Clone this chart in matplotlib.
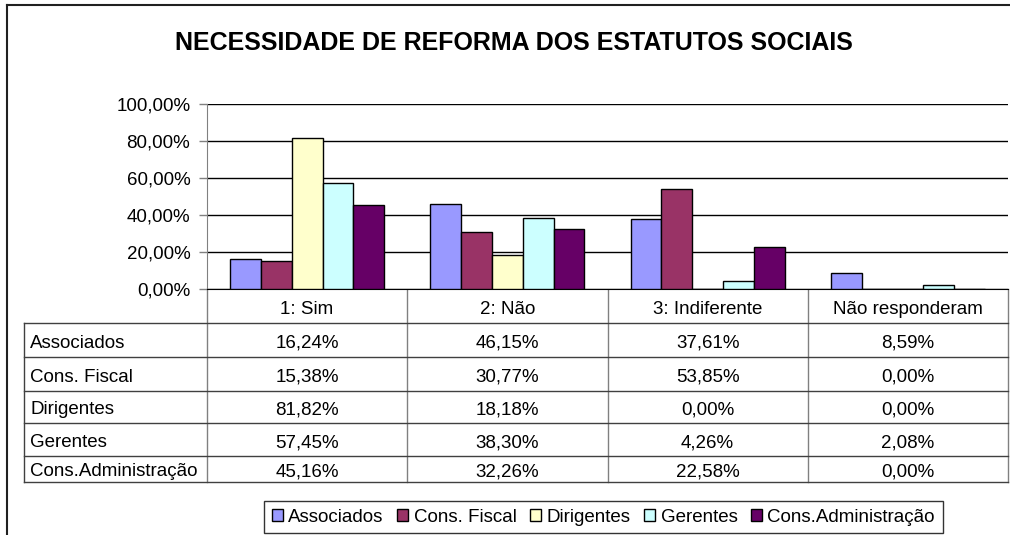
import matplotlib
matplotlib.use("Agg")
import matplotlib.pyplot as plt
import numpy as np

plt.rcParams["font.family"] = ["Liberation Sans", "DejaVu Sans"]

# data
categories = ["1: Sim", "2: Não", "3: Indiferente", "Não responderam"]
series = ["Associados", "Cons. Fiscal", "Dirigentes", "Gerentes", "Cons.Administração"]
associados = [16.24, 46.15, 37.61, 8.59]
cons_fiscal = [15.38, 30.77, 53.85, 0.00]
dirigentes = [81.82, 18.18, 0.00, 0.00]
gerentes = [57.45, 38.30, 4.26, 2.08]
cons_admin = [45.16, 32.26, 22.58, 0.00]
values = [associados, cons_fiscal, dirigentes, gerentes, cons_admin]
colors = ["#9999FF", "#993366", "#FFFFCC", "#CCFFFF", "#660066"]

W, H = 1010, 535
fig = plt.figure(figsize=(W / 100, H / 100), dpi=100)
FS = 13.5

def fx(px):
    return px / W

def fy(py):
    return 1 - py / H

# plot area
left, right, top, bottom = 207, 1008, 104, 289
ax = fig.add_axes([fx(left), fy(bottom), fx(right) - fx(left), fy(top) - fy(bottom)])
x = np.arange(len(categories))
width = 1 / 6.5
handles = []
for i, (name, vals, col) in enumerate(zip(series, values, colors)):
    b = ax.bar(x + (i - 2) * width, np.array(vals) / 100, width, color=col,
               edgecolor="black", linewidth=1, label=name, zorder=3)
    handles.append(b)
ax.set_xlim(-0.5, len(categories) - 0.5)
ax.set_ylim(0, 1)
ax.set_yticks(np.arange(0, 1.01, 0.2))
ax.set_yticklabels([("%.2f%%" % (v * 100)).replace(".", ",") for v in np.arange(0, 1.01, 0.2)],
                   fontsize=FS)
ax.set_xticks([])
ax.yaxis.grid(True, color="black", linewidth=1)
ax.set_axisbelow(True)
ax.tick_params(axis="y", length=6, width=1, color="#808080", pad=6)
for s in ["top", "right"]:
    ax.spines[s].set_visible(False)
ax.spines["left"].set_color("#808080")
ax.spines["bottom"].set_color("black")

# title
fig.text(fx(514), fy(43), "NECESSIDADE DE REFORMA DOS ESTATUTOS SOCIAIS",
         ha="center", va="center", fontsize=18, fontweight="bold")

# data table
tax = fig.add_axes([0, 0, 1, 1], zorder=-1)
tax.set_xlim(0, W)
tax.set_ylim(H, 0)
tax.axis("off")
col_edges = np.linspace(left, right, len(categories) + 1)
row_edges = [323, 357, 391, 423, 456, 482]
tab_left = 24
dy = 3
for cx in col_edges:
    tax.plot([cx, cx], [bottom, row_edges[-1]], color="#808080", lw=1)
for ry in row_edges:
    tax.plot([tab_left, right], [ry, ry], color="#404040", lw=1)
tax.plot([tab_left, tab_left], [row_edges[0], row_edges[-1]], color="#404040", lw=1)
for j, cat in enumerate(categories):
    tax.text((col_edges[j] + col_edges[j + 1]) / 2, (bottom + row_edges[0]) / 2 + dy, cat,
             ha="center", va="center", fontsize=FS)
for i, (name, vals) in enumerate(zip(series, values)):
    cy = (row_edges[i] + row_edges[i + 1]) / 2 + dy
    tax.text(tab_left + 6, cy, name, ha="left", va="center", fontsize=FS)
    for j, v in enumerate(vals):
        tax.text((col_edges[j] + col_edges[j + 1]) / 2, cy, ("%.2f%%" % v).replace(".", ","),
                 ha="center", va="center", fontsize=FS)

# outer frame
tax.plot([7, W], [5, 5], color="#202020", lw=1.5)
tax.plot([7, 7], [5, H], color="#202020", lw=1.5)

# legend
leg = fig.legend(handles=handles, labels=series, ncol=5, loc="upper left",
                 bbox_to_anchor=(fx(264), fy(501)), frameon=True, fancybox=False,
                 fontsize=FS, handlelength=0.6, handleheight=0.6, handletextpad=0.3,
                 columnspacing=0.7, borderpad=0.4, borderaxespad=0)
leg.get_frame().set_edgecolor("black")
leg.get_frame().set_linewidth(1)

fig.savefig("out.png", dpi=100)
